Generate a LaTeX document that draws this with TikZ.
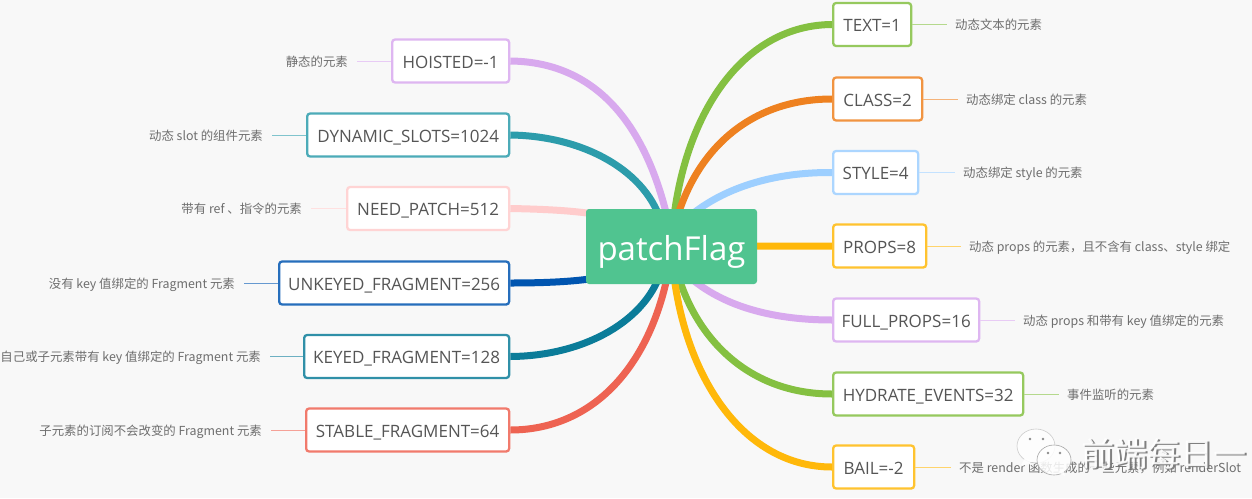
\documentclass[tikz,border=0pt]{standalone}
\usepackage{fontspec}
\setmainfont{Noto Sans CJK SC}
\newfontfamily\boxfont{Open Sans}
\newfontfamily\cjk{Noto Sans CJK SC}
\pgfdeclarelayer{under}
\pgfdeclarelayer{paper}
\pgfsetlayers{paper,under,main}
\definecolor{bgc}{HTML}{F8F8F8}
\definecolor{cpurple}{HTML}{D8A9EE}
\definecolor{cteal}{HTML}{2C9CAB}
\definecolor{cpink}{HTML}{FFCCCC}
\definecolor{cblue}{HTML}{0055B0}
\definecolor{ckeyed}{HTML}{0B7C99}
\definecolor{cred}{HTML}{EE6352}
\definecolor{cgreen}{HTML}{84C041}
\definecolor{corange}{HTML}{EE8120}
\definecolor{clight}{HTML}{9DCFFF}
\definecolor{cyellow}{HTML}{FFB80A}
\definecolor{cmain}{HTML}{50C490}
\definecolor{ctext}{HTML}{555555}
\definecolor{csmall}{HTML}{6E6E6E}
\tikzset{
  flag/.style={draw=#1!85!white,fill=white,line width=2.3pt,rounded corners=3pt,minimum height=43pt,inner sep=0pt,anchor=west,text=ctext,text height=16pt,text depth=2pt,font=\boxfont\fontsize{17}{17}\selectfont},
  branch/.style={draw=#1,line width=7pt,line cap=butt},
  twig/.style={draw=#1!60!white,line width=1pt},
  note/.style={text=csmall,font=\cjk\fontsize{12.4}{12.4}\selectfont,inner ysep=0pt,inner xsep=9pt,text height=11pt,text depth=1pt},
  rnote/.style={note,anchor=west,inner xsep=8pt},
  hub/.style={fill=cmain,rounded corners=3pt,minimum width=171pt,minimum height=75pt,inner sep=0pt,text=white,text height=30pt,text depth=3pt,font=\boxfont\fontsize{33}{33}\selectfont},
  wm/.style={font=\cjk\fontsize{33}{33}\selectfont,anchor=west,inner sep=0pt},
  bubble/.style={fill=white,draw=#1,line width=.6pt,fill opacity=.85}
}
\begin{document}
\begin{tikzpicture}[x=1pt,y=-1pt]
\useasboundingbox (0,0) rectangle (1252,498);
\begin{pgfonlayer}{paper}
\fill[bgc] (0,0) rectangle (1252,498);
\end{pgfonlayer}

% boxes
\node[flag=cpurple, minimum width=117pt] (hoisted) at (391,61) {HOISTED=-1};
\node[flag=cteal,   minimum width=202pt] (dyn)     at (306,135) {DYNAMIC\_SLOTS=1024};
\node[flag=cpink,   minimum width=162pt] (need)    at (346,208.5) {NEED\_PATCH=512};
\node[flag=cblue,   minimum width=230pt] (unk)     at (278,283) {UNKEYED\_FRAGMENT=256};
\node[flag=ckeyed,  minimum width=205pt] (keyed)   at (303,356.5) {KEYED\_FRAGMENT=128};
\node[flag=cred,    minimum width=203pt] (stable)  at (305,430) {STABLE\_FRAGMENT=64};
\node[flag=cgreen,  minimum width=78pt]  (text)    at (832,24.5) {TEXT=1};
\node[flag=corange, minimum width=89pt]  (class)   at (832,99) {CLASS=2};
\node[flag=clight,  minimum width=85pt]  (style)   at (832,172.5) {STYLE=4};
\node[flag=cyellow, minimum width=93pt]  (props)   at (832,246) {PROPS=8};
\node[flag=cpurple, minimum width=146pt] (full)    at (832,320) {FULL\_PROPS=16};
\node[flag=cgreen,  minimum width=190pt] (hyd)     at (832,394) {HYDRATE\_EVENTS=32};
\node[flag=cyellow, minimum width=81pt]  (bail)    at (832,467) {BAIL=-2};

\node[hub] (main) at (671.5,246.5) {patchFlag};

% branches, under the hub and the boxes
\begin{pgfonlayer}{under}
\draw[branch=cpurple] (main.center) ++(-2.5,-21.5) .. controls (648,130) and (600,62) .. (hoisted.east);
\draw[branch=cteal]   (main.center) ++(-9.5,-21.5) .. controls (648,172) and (585,136) .. (dyn.east);
\draw[branch=cpink]   (main.center) .. controls (640,216) and (590,210) .. (need.east);
\draw[branch=cblue]   (main.center) .. controls (640,276) and (590,283) .. (unk.east);
\draw[branch=ckeyed]  (main.center) ++(-9.5,21.5) .. controls (648,320) and (585,356) .. (keyed.east);
\draw[branch=cred]    (main.center) ++(-2.5,21.5) .. controls (650,370) and (590,430) .. (stable.east);
\draw[branch=cgreen]  (main.center) ++(1.5,-21.5) .. controls (685,110) and (745,25) .. (text.west);
\draw[branch=corange] (main.center) ++(3.5,-21.5) .. controls (695,150) and (750,99) .. (class.west);
\draw[branch=clight]  (main.center) ++(8.5,-21.5) .. controls (715,190) and (770,172) .. (style.west);
\draw[branch=cyellow] (main.center) -- (props.west);
\draw[branch=cpurple] (main.center) ++(8.5,21.5) .. controls (715,305) and (770,320) .. (full.west);
\draw[branch=cgreen]  (main.center) ++(4.5,21.5) .. controls (695,340) and (750,394) .. (hyd.west);
\draw[branch=cyellow] (main.center) ++(1.5,21.5) .. controls (685,380) and (745,467) .. (bail.west);
\end{pgfonlayer}

% notes
\node[note,anchor=east] (n1) at (357,61) {静态的元素};
\node[note,anchor=east] (n2) at (272,135) {动态 slot 的组件元素};
\node[note,anchor=east] (n3) at (311,208.5) {带有 ref 、指令的元素};
\node[note,anchor=east] (n4) at (244,283) {没有 key 值绑定的 Fragment 元素};
\node[note,anchor=east] (n5) at (270,356.5) {自己或子元素带有 key 值绑定的 Fragment 元素};
\node[note,anchor=east] (n6) at (271,430) {子元素的订阅不会改变的 Fragment 元素};
\node[rnote] (n7) at (947,24.5) {动态文本的元素};
\node[rnote] (n8) at (958,99) {动态绑定 class 的元素};
\node[rnote] (n9) at (955,172.5) {动态绑定 style 的元素};
\node[rnote] (n10) at (961,246) {动态 props 的元素，且不含有 class、style 绑定};
\node[rnote] (n11) at (1015,320) {动态 props 和带有 key 值绑定的元素};
\node[rnote] (n12) at (1059,394) {事件监听的元素};
\node[rnote] (n13) at (951,467) {不是 render 函数生成的一些元素，例如 renderSlot};

\draw[twig=cpurple] (n1.east) -- (hoisted.west);
\draw[twig=cteal]   (n2.east) -- (dyn.west);
\draw[twig=cpink]   (n3.east) -- (need.west);
\draw[twig=cblue]   (n4.east) -- (unk.west);
\draw[twig=ckeyed]  (n5.east) -- (keyed.west);
\draw[twig=cred]    (n6.east) -- (stable.west);
\draw[twig=cgreen]  (text.east) -- (n7.west);
\draw[twig=corange] (class.east) -- (n8.west);
\draw[twig=clight]  (style.east) -- (n9.west);
\draw[twig=cyellow] (props.east) -- (n10.west);
\draw[twig=cpurple] (full.east) -- (n11.west);
\draw[twig=cgreen]  (hyd.east) -- (n12.west);
\draw[twig=cyellow] (bail.east) -- (n13.west);

% watermark
\path[bubble=black!20] (1036,446) circle[x radius=19,y radius=17];
\path[fill=white,fill opacity=.85] (1025,458) -- (1020,467) -- (1034,461) -- cycle;
\path[bubble=black!35] (1054,460) circle[x radius=17,y radius=15];
\path[fill=white,fill opacity=.85] (1058,472) -- (1065,476) -- (1063,469) -- cycle;
\foreach \p in {(1030,439),(1043,439),(1048,453),(1060,453)} \fill[black!45] \p circle[radius=1.4];
\node[wm,text=black!55,opacity=.9] at (1082.8,454.6) {前端每日一};
\node[wm,text=white,opacity=.9] at (1081.6,453.6) {前端每日一};
\end{tikzpicture}
\end{document}
